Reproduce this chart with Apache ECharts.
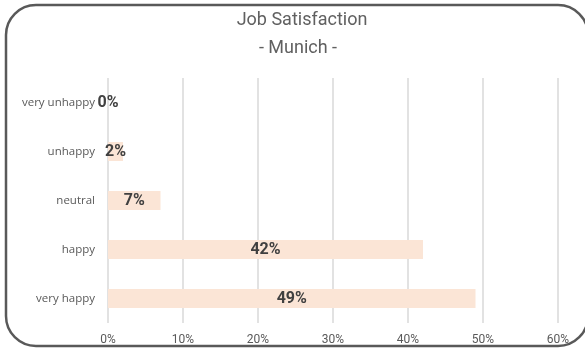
<!DOCTYPE html>
<html>
<head>
<meta charset="utf-8">
<script src="https://cdn.jsdelivr.net/npm/echarts@6/dist/echarts.min.js"></script>
<style>
  html, body { margin: 0; padding: 0; background: #fff; }
  #chart { width: 585px; height: 349px; }
</style>
</head>
<body>
<div id="chart"></div>
<script>
// Survey answers, top to bottom
const categories = ['very unhappy', 'unhappy', 'neutral', 'happy', 'very happy'];
// Share of respondents, percent
const shares = [0, 2, 7, 42, 49];
// Axis range and step, percent
const axisMax = 60;
const axisStep = 10;

const chart = echarts.init(document.getElementById('chart'));
chart.setOption({
  animation: false,
  title: [
    {
      text: 'Job Satisfaction',
      left: 297, top: 6, textAlign: 'center',
      textStyle: { fontFamily: 'Roboto', fontWeight: 'normal', fontSize: 18, color: '#606060' }
    },
    {
      text: '- Munich -',
      left: 293, top: 34, textAlign: 'center',
      textStyle: { fontFamily: 'Roboto', fontWeight: 'normal', fontSize: 18, color: '#606060' }
    }
  ],
  graphic: [{
    type: 'rect',
    shape: { x: 6, y: 5, width: 582, height: 341, r: 30 },
    style: { fill: 'none', stroke: '#595959', lineWidth: 2.5 },
    z: 10
  }],
  grid: { left: 108, right: 27, top: 78, bottom: 26 },
  xAxis: {
    type: 'value',
    min: 0, max: axisMax, interval: axisStep,
    axisLine: { show: false },
    axisTick: { show: false },
    splitLine: { lineStyle: { color: '#d9d9d9', width: 1.5 } },
    axisLabel: {
      formatter: v => v + '%',
      color: '#595959', fontFamily: 'Roboto', fontSize: 12, margin: 11
    }
  },
  yAxis: {
    type: 'category',
    data: categories,
    inverse: true,
    axisLine: { show: false },
    axisTick: { show: false },
    axisLabel: { color: '#595959', fontFamily: 'Open Sans', fontSize: 11.5, margin: 13 }
  },
  series: [{
    type: 'bar',
    data: shares,
    barWidth: 19,
    itemStyle: { color: '#fbe5d6' },
    label: {
      show: true,
      position: 'inside',
      formatter: p => p.value + '%',
      color: '#404040', fontFamily: 'Roboto', fontWeight: 'bold', fontSize: 16
    }
  }]
});
</script>
</body>
</html>
